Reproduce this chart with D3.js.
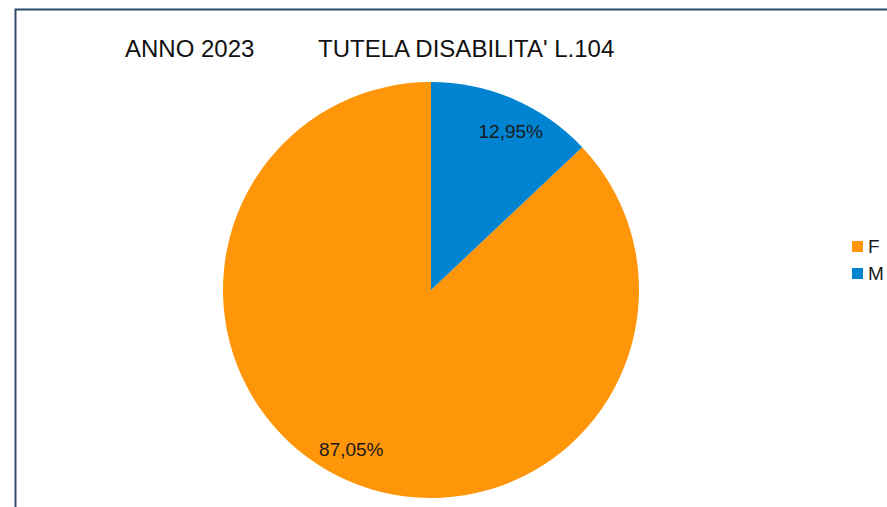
<!DOCTYPE html>
<html>
<head>
<meta charset="utf-8">
<script src="https://cdn.jsdelivr.net/npm/d3@7"></script>
<style>
  body { margin: 0; background: #fff; }
  svg { display: block; }
</style>
</head>
<body>
<div id="chart"></div>
<script>
// Data
const categories = ["F", "M"];
const values = [87.05, 12.95];
const colors = ["#ff9508", "#0084d1"];
const titleLeft = "ANNO 2023";
const titleRight = "TUTELA DISABILITA' L.104";

const width = 887;
const height = 507;
const cx = 431, cy = 290, radius = 208;

const svg = d3.select("#chart").append("svg")
    .attr("width", width)
    .attr("height", height);

// Chart border
svg.append("rect")
    .attr("x", 15.5)
    .attr("y", 9.5)
    .attr("width", 1000)
    .attr("height", 1000)
    .attr("fill", "none")
    .attr("stroke", "#2e4a6c")
    .attr("stroke-width", 2);

// Title
svg.append("text")
    .attr("x", 125).attr("y", 57)
    .attr("font-family", "Liberation Sans, Arial, sans-serif")
    .attr("font-size", 24)
    .attr("fill", "#111")
    .text(titleLeft);

svg.append("text")
    .attr("x", 318).attr("y", 57)
    .attr("font-family", "Liberation Sans, Arial, sans-serif")
    .attr("font-size", 24)
    .attr("fill", "#111")
    .text(titleRight);

const data = categories.map((c, i) => ({ cat: c, value: values[i], color: colors[i] }));
const total = d3.sum(values);

// Counter-clockwise from the top, like the original
const pie = d3.pie().sort(null).value(d => d.value)
    .startAngle(0).endAngle(-2 * Math.PI);
const arcs = pie(data);

const arc = d3.arc().innerRadius(0).outerRadius(radius);

const g = svg.append("g").attr("transform", `translate(${cx},${cy})`);

g.selectAll("path")
    .data(arcs)
    .join("path")
    .attr("d", arc)
    .attr("fill", d => d.data.color);

// label position: slightly rotated clockwise from the slice middle
const labelR = radius * 0.855;
const labelPos = d => {
    const a = (d.startAngle + d.endAngle) / 2 + 0.058;
    return [Math.sin(a) * labelR, -Math.cos(a) * labelR];
};

g.selectAll("text")
    .data(arcs)
    .join("text")
    .attr("transform", d => `translate(${labelPos(d)})`)
    .attr("text-anchor", "middle")
    .attr("dy", "0.35em")
    .attr("font-family", "Liberation Sans, Arial, sans-serif")
    .attr("font-size", 19)
    .attr("fill", "#1a1a1a")
    .text(d => (d.data.value / total * 100).toFixed(2).replace(".", ",") + "%");

// Legend
const legend = svg.append("g").attr("transform", "translate(852,241)");
const item = legend.selectAll("g")
    .data(data)
    .join("g")
    .attr("transform", (d, i) => `translate(0,${i * 27})`);

item.append("rect")
    .attr("width", 11).attr("height", 11)
    .attr("fill", d => d.color);

item.append("text")
    .attr("x", 16).attr("y", 11.5)
    .attr("font-family", "Liberation Sans, Arial, sans-serif")
    .attr("font-size", 19)
    .attr("fill", "#1a1a1a")
    .text(d => d.cat);
</script>
</body>
</html>
